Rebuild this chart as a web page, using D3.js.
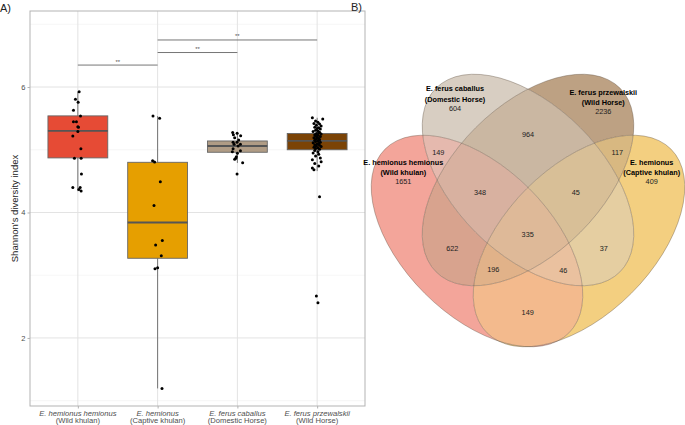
<!DOCTYPE html>
<html><head><meta charset="utf-8">
<script src="https://cdn.jsdelivr.net/npm/d3@7"></script>
<style>body{margin:0;background:#fff} svg{display:block} text{font-family:"Liberation Sans",Arial,sans-serif}</style>
</head><body><svg id="c" width="685" height="425"></svg>
<script>
// ---------------- Panel A data ----------------
const groups = ["E. hemionus hemionus","E. hemionus","E. ferus caballus","E. ferus przewalskii"];
const groupSub = ["(Wild khulan)","(Captive khulan)","(Domestic Horse)","(Wild Horse)"];
const boxColors = ["#E64B35","#E69F00","#B09C85","#7B4306"];
const q1 = [4.87, 3.27, 4.96, 5.00];
const medians = [5.30, 3.84, 5.06, 5.14];
const q3 = [5.54, 4.80, 5.14, 5.26];
const whiskerLo = [4.34, 1.195, 4.79, 4.66];
const whiskerHi = [5.925, 5.537, 5.274, 5.51];
const yTicks = [2, 4, 6];
const yMinor = [1, 3, 5, 7];
// individual samples (Shannon index) and horizontal jitter (category units)
const vals1 = [5.925,5.804,5.756,5.628,5.537,5.447,5.447,5.367,5.357,5.293,5.219,5.016,4.863,4.863,4.612,4.400,4.400,4.368,4.341];
const jit1  = [0.016,-0.030,0.004,-0.055,0.033,-0.055,-0.018,0,0.008,0,-0.063,0.038,-0.043,0.041,0.045,-0.063,0.029,0.013,0.041];
const vals2 = [5.537,5.501,4.825,4.804,4.490,4.113,3.555,3.480,3.309,3.102,3.118,1.195];
const jit2  = [-0.058,0.025,-0.063,-0.038,0.034,-0.045,0.059,-0.025,0.046,-0.033,0,0.055];
const vals3 = [5.274,5.262,5.239,5.223,5.191,5.155,5.118,5.118,5.086,5.086,5.059,5.016,4.984,4.968,4.943,4.888,4.863,4.847,4.793,4.612];
const jit3  = [-0.059,-0.003,-0.050,0.041,-0.034,0.016,-0.054,-0.004,-0.041,0.038,0.009,-0.054,0.038,-0.063,0,-0.013,-0.021,-0.034,0.066,-0.004];
const vals4 = [5.51,5.49,5.46,5.44,5.42,5.41,5.39,5.38,5.36,5.35,5.34,5.33,5.31,5.30,5.29,5.28,5.27,5.26,5.25,5.24,5.23,5.22,5.21,5.20,5.19,5.18,5.17,5.16,5.15,5.14,5.13,5.12,5.11,5.10,5.09,5.08,5.07,5.06,5.05,5.04,5.03,5.02,5.01,4.99,4.97,4.95,4.93,4.90,4.87,4.84,4.81,4.78,4.74,4.71,4.68,4.25,2.67,2.56];
const jit4  = [-0.06,0.07,-0.02,0.01,-0.04,0.03,-0.01,0.05,-0.03,0.02,0,0.04,-0.02,0.01,-0.05,0.03,0.02,-0.01,0.05,-0.03,0.01,-0.02,0.04,0,-0.04,0.02,-0.01,0.03,-0.03,0.01,-0.02,0.04,-0.05,0.02,0,-0.03,0.03,-0.01,0.05,-0.04,0.01,-0.02,0.03,-0.03,0.01,-0.05,0.02,-0.02,0.04,-0.06,0.05,-0.03,0.02,-0.06,-0.04,0.03,-0.01,0.01];
const bracketFrom = [0, 1, 1];
const bracketTo = [1, 2, 3];
const bracketY = [6.35, 6.55, 6.75];
const bracketLabel = ["**","**","**"];

// ---------------- Panel B data ----------------
const vennSets = ["E. hemionus hemionus","E. ferus caballus","E. ferus przewalskii","E. hemionus"];
const vennSub = ["(Wild khulan)","(Domestic Horse)","(Wild Horse)","(Captive khulan)"];
const vennColors = ["#E64B35","#B09C85","#7B4306","#E69F00"];
const vennOnly = [1651, 604, 2236, 409];
const regionIds = ["AB","BC","CD","ABC","BCD","ABCD","AC","BD","ACD","ABD","AD"];
const regionCounts = [149, 964, 117, 348, 45, 335, 622, 37, 196, 46, 149];

// ---------------- drawing ----------------
const svg = d3.select("#c");
const defs = svg.append("defs");
const grey30 = "#4D4D4D";
const P = {l:30, r:365, t:11, b:406};

const x = d3.scalePoint().domain(d3.range(groups.length)).range([P.l, P.r]).padding(0.6);
const step = x.step();
const y = d3.scaleLinear().domain([0.915, 7.212]).range([P.b, P.t]);

const gA = svg.append("g");
gA.selectAll(".mn").data(yMinor).join("line")
  .attr("x1",P.l).attr("x2",P.r).attr("y1",d=>y(d)).attr("y2",d=>y(d))
  .attr("stroke","#EDEDED").attr("stroke-width",0.5);
gA.selectAll(".mj").data(yTicks).join("line")
  .attr("x1",P.l).attr("x2",P.r).attr("y1",d=>y(d)).attr("y2",d=>y(d))
  .attr("stroke","#E3E3E3").attr("stroke-width",1);
gA.selectAll(".vx").data(d3.range(groups.length)).join("line")
  .attr("x1",d=>x(d)).attr("x2",d=>x(d)).attr("y1",P.t).attr("y2",P.b)
  .attr("stroke","#E3E3E3").attr("stroke-width",1);

const bw = step*0.75;
const bx = gA.selectAll(".box").data(d3.range(groups.length)).join("g");
bx.append("line").attr("x1",i=>x(i)).attr("x2",i=>x(i))
  .attr("y1",i=>y(whiskerHi[i])).attr("y2",i=>y(q3[i])).attr("stroke","#666").attr("stroke-width",0.9);
bx.append("line").attr("x1",i=>x(i)).attr("x2",i=>x(i))
  .attr("y1",i=>y(q1[i])).attr("y2",i=>y(whiskerLo[i])).attr("stroke","#666").attr("stroke-width",0.9);
bx.append("rect").attr("x",i=>x(i)-bw/2).attr("width",bw)
  .attr("y",i=>y(q3[i])).attr("height",i=>y(q1[i])-y(q3[i]))
  .attr("fill",i=>boxColors[i]).attr("stroke","#666").attr("stroke-width",0.9);
bx.append("line").attr("x1",i=>x(i)-bw/2).attr("x2",i=>x(i)+bw/2)
  .attr("y1",i=>y(medians[i])).attr("y2",i=>y(medians[i])).attr("stroke","#555").attr("stroke-width",1.8);

const allVals = [vals1, vals2, vals3, vals4];
const allJit = [jit1, jit2, jit3, jit4];
allVals.forEach((vals, gi) => {
  gA.append("g").selectAll("circle").data(vals).join("circle")
    .attr("cx",(d,k)=>x(gi)+allJit[gi][k]*step).attr("cy",d=>y(d)).attr("r",1.5).attr("fill","#000");
});

bracketY.forEach((v,i)=>{
  gA.append("line").attr("x1",x(bracketFrom[i])).attr("x2",x(bracketTo[i]))
    .attr("y1",y(v)).attr("y2",y(v)).attr("stroke","#666").attr("stroke-width",0.9);
  gA.append("text").attr("x",(x(bracketFrom[i])+x(bracketTo[i]))/2).attr("y",y(v)-1.5)
    .attr("text-anchor","middle").attr("font-size",6).attr("fill","#555").text(bracketLabel[i]);
});

gA.append("rect").attr("x",P.l).attr("y",P.t).attr("width",P.r-P.l).attr("height",P.b-P.t)
  .attr("fill","none").attr("stroke","#B3B3B3").attr("stroke-width",1);

const yAx = gA.append("g").attr("transform",`translate(${P.l},0)`)
  .call(d3.axisLeft(y).tickValues(yTicks).tickSize(2.5).tickPadding(2).tickFormat(d3.format("d")));
yAx.select(".domain").remove();
yAx.selectAll(".tick line").attr("stroke","#B3B3B3");
yAx.selectAll(".tick text").attr("fill",grey30).attr("font-size",7.5).attr("font-family","Liberation Sans, Arial, sans-serif");
const xAx = gA.append("g").attr("transform",`translate(0,${P.b})`)
  .call(d3.axisBottom(x).tickSize(2.5).tickFormat(""));
xAx.select(".domain").remove();
xAx.selectAll(".tick line").attr("stroke","#B3B3B3");
groups.forEach((g,i)=>{
  gA.append("text").attr("x",x(i)).attr("y",415.5).attr("text-anchor","middle")
    .attr("font-size",7.6).attr("font-style","italic").attr("fill",grey30).text(g);
  gA.append("text").attr("x",x(i)).attr("y",423).attr("text-anchor","middle")
    .attr("font-size",7.6).attr("fill",grey30).text(groupSub[i]);
});
gA.append("text").attr("transform",`translate(18,${(P.t+P.b)/2}) rotate(-90)`)
  .attr("text-anchor","middle").attr("font-size",9.5).attr("fill","#222").text("Shannon's diversity index");

svg.append("text").attr("x",0).attr("y",12).attr("font-size",11).attr("fill","#222").text("A)");
svg.append("text").attr("x",351).attr("y",11).attr("font-size",11).attr("fill","#222").text("B)");

// ---------------- Venn ----------------
const V = {
  ell: [ {cx:477, cy:241, rot:45}, {cx:528, cy:180, rot:45}, {cx:528, cy:180, rot:-45}, {cx:579, cy:241, rot:-45} ],
  a:130, b:74,
  setLab: [[403.3,162.3],[455,88.5],[603.3,92.3],[651.7,162.3]],
  region: {AB:[438.3,152.3], BC:[528,134], CD:[617.3,152.3], ABC:[480,192.3], BCD:[575.7,192.3],
           ABCD:[527.7,234.3], AC:[452.3,248.3], BD:[603.7,248.3], ACD:[493.3,269.3], ABD:[563.3,270.7], AD:[527.7,312.7]}
};
const ellAttrs = (sel)=>sel.attr("cx",0).attr("cy",0).attr("rx",V.a).attr("ry",V.b)
  .attr("transform",d=>`translate(${d.cx},${d.cy}) rotate(${d.rot})`);
V.ell.forEach((e,i)=>{
  ellAttrs(defs.append("clipPath").attr("id","ce"+i).append("ellipse").datum(e));
});
// light tints of each set colour
const tints = vennColors.map(c=>{const r=d3.rgb(c); return [ (r.r+255)/2, (r.g+255)/2, (r.b+255)/2 ];});
const gB = svg.append("g");
// every non-empty subset of the four sets -> region filled with mean tint
for (let m=1; m<16; m++){
  const inS = [0,1,2,3].filter(i=>m&(1<<i));
  const outS = [0,1,2,3].filter(i=>!(m&(1<<i)));
  const col = [0,1,2].map(ch=>d3.mean(inS,i=>tints[i][ch]));
  const mk = defs.append("mask").attr("id","mk"+m).attr("maskUnits","userSpaceOnUse")
    .attr("x",340).attr("y",40).attr("width",345).attr("height",340);
  mk.append("rect").attr("x",340).attr("y",40).attr("width",345).attr("height",340).attr("fill","#fff");
  outS.forEach(i=>ellAttrs(mk.append("ellipse").datum(V.ell[i])).attr("fill","#000"));
  let g = gB.append("g").attr("mask",`url(#mk${m})`);
  inS.forEach(i=>{ g = g.append("g").attr("clip-path",`url(#ce${i})`); });
  g.append("rect").attr("x",340).attr("y",40).attr("width",345).attr("height",340)
    .attr("fill",d3.rgb(col[0],col[1],col[2]).formatHex());
}
gB.selectAll("ellipse.o").data(V.ell).join("ellipse").attr("class","o").call(ellAttrs)
  .attr("fill","none").attr("stroke","#5a4a3a").attr("stroke-opacity",0.6).attr("stroke-width",0.6);

vennSets.forEach((s,i)=>{
  const [lx,ly] = V.setLab[i];
  gB.append("text").attr("x",lx).attr("y",ly).attr("text-anchor","middle").attr("dominant-baseline","central")
    .attr("font-size",7.3).attr("font-weight","bold").attr("fill","#000").text(s);
  gB.append("text").attr("x",lx).attr("y",ly+10.5).attr("text-anchor","middle").attr("dominant-baseline","central")
    .attr("font-size",7.3).attr("font-weight","bold").attr("fill","#000").text(vennSub[i]);
  gB.append("text").attr("x",lx).attr("y",ly+19.5).attr("text-anchor","middle").attr("dominant-baseline","central")
    .attr("font-size",7.3).attr("fill","#222").text(vennOnly[i]);
});
regionIds.forEach((id,i)=>{
  const [lx,ly] = V.region[id];
  gB.append("text").attr("x",lx).attr("y",ly).attr("text-anchor","middle").attr("dominant-baseline","central")
    .attr("font-size",7.3).attr("fill","#222").text(regionCounts[i]);
});
</script></body></html>
